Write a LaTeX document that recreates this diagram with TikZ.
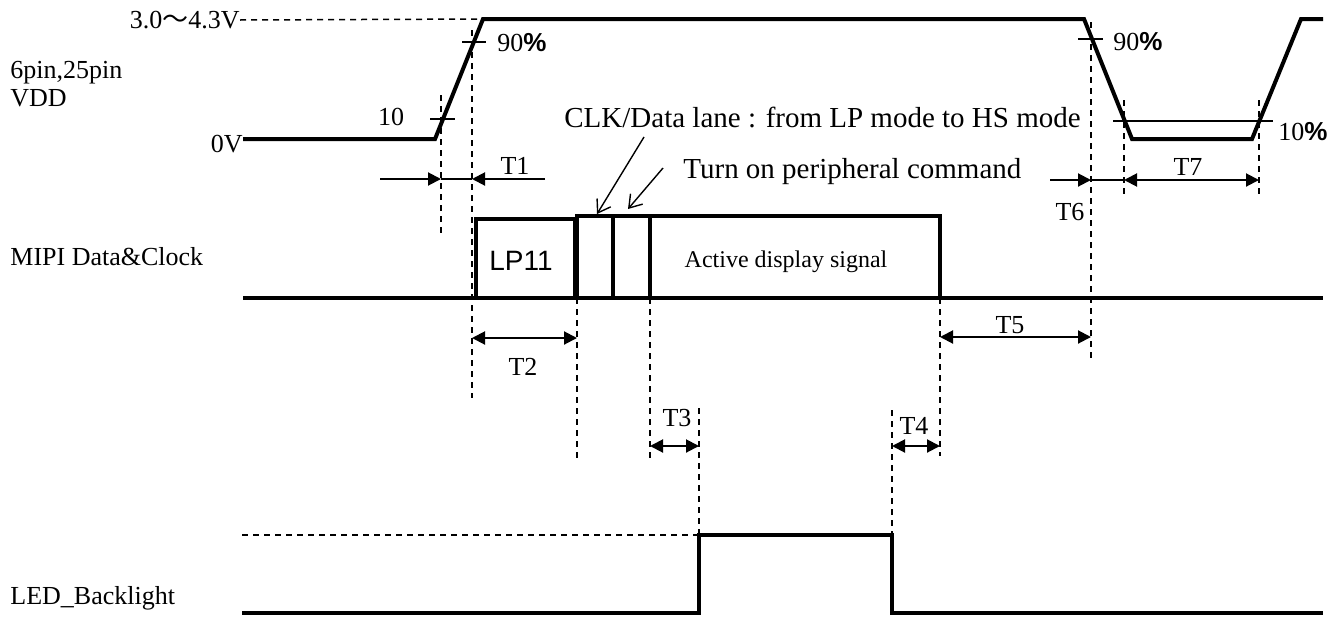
\documentclass[tikz,border=0pt]{standalone}
\usepackage{fontspec}
\setmainfont{Liberation Serif}
\newfontfamily\sansf{Liberation Sans}
\newfontfamily\cjk{Noto Sans CJK JP}
\usepackage{tikz}
\usetikzlibrary{arrows.meta}
\tikzset{
  sig/.style={draw=black, line width=2pt, line join=miter},
  box/.style={draw=black, line width=1.6pt},
  help/.style={draw=black, line width=0.75pt, dash pattern=on 3pt off 2.5pt},
  tick/.style={draw=black, line width=1.4pt},
  dim/.style={draw=black, line width=1pt},
  note/.style={draw=black, line width=0.7pt, -{Straight Barb[length=6pt,width=8pt]}},
  lab/.style={inner sep=0pt, font=\fontsize{13}{15}\selectfont},
  labl/.style={inner sep=0pt, font=\fontsize{14.5}{17}\selectfont},
  labs/.style={inner sep=0pt, font=\fontsize{12}{14}\selectfont},
  >={Triangle[length=6.5pt,width=6.5pt]},
}
\newcommand{\pct}{{\sansf\bfseries\%}}

\begin{document}
\begin{tikzpicture}[x=0.5pt,y=-0.5pt]
  \useasboundingbox (0,0) rectangle (1344,616);
  % VDD waveform
  \coordinate (v0) at (243,139);
  \coordinate (r0) at (435,139);
  \coordinate (r1) at (483,19);
  \coordinate (f0) at (1084,19);
  \coordinate (f1) at (1132,139);
  \coordinate (g0) at (1252,139);
  \coordinate (g1) at (1301,19);
  \coordinate (v1) at (1323,19);
  \draw[sig] (v0) -- (r0) -- (r1) -- (f0) -- (f1) -- (g0) -- (g1) -- (v1);
  \node[lab,anchor=east] (vhi) at (240,20) {3.0{\cjk 〜}4.3V};
  \draw[help] (vhi.east) -- (r1);
  \node[lab,anchor=base east] (vlo) at (243,152) {0V};
  \node[lab,anchor=west] (pin) at (10,73) {6pin,25pin};
  \node[lab,anchor=west] (vdd) at (10,98) {VDD};
  % 10/90 marks
  \draw[tick] (430,119) -- (455,119);
  \draw[tick] (462,42) -- (486,42);
  \draw[tick] (1078,39) -- (1103,39);
  \draw[tick] (1113,121) -- (1273,121);
  \node[lab] (p10) at (391,117) {10};
  \node[lab,anchor=west] (p90a) at (497,43) {90\pct};
  \node[lab,anchor=west] (p90b) at (1113,42) {90\pct};
  \node[lab,anchor=west] (p10b) at (1278,132) {10\pct};
  % guide lines
  \foreach \x/\ya/\yb in {441/95/233, 472/30/398, 577/298/458, 650/298/458,
                          940/298/456, 699/408/535, 892/410/535, 1091/22/358,
                          1124/100/198, 1259/100/198}
    \draw[help] (\x,\ya) -- (\x,\yb);
  % MIPI
  \node[lab,anchor=west] (mipi) at (10,257) {MIPI Data\&Clock};
  \draw[sig] (243,298) -- (1323,298);
  \draw[box] (476,219) rectangle (575,298);
  \draw[box] (577,216) rectangle (940,298);
  \draw[box] (613,216) -- (613,298) (650,216) -- (650,298);
  \node[inner sep=0pt,font=\sansf\fontsize{14}{16}\selectfont] (lp) at (521,261) {LP11};
  \node[labs] (act) at (786,262) {Active display signal};
  \node[labl,anchor=west] (clk) at (564,117) {CLK/Data lane : from LP mode to HS mode};
  \node[labl,anchor=west] (cmd) at (683,172) {Turn on peripheral command};
  \coordinate (c0) at (644,137);
  \coordinate (c1) at (597,214);
  \coordinate (m0) at (663,168);
  \coordinate (m1) at (628,209);
  \draw[note] (c0) -- (c1);
  \draw[note] (m0) -- (m1);
  % LED
  \node[lab,anchor=west] (led) at (10,598) {LED\_Backlight};
  \draw[help] (242,535) -- (699,535);
  \draw[sig] (242,613) -- (699,613) -- (699,535) -- (892,535) -- (892,613) -- (1323,613);
  % timings
  \draw[dim,->] (380,179) -- (441,179);
  \draw[dim,line width=1.4pt] (441,179) -- (472,179);
  \draw[dim,->] (545,179) -- (472,179);
  \draw[dim,->] (1050,180) -- (1091,180);
  \draw[dim,line width=1.4pt] (1091,180) -- (1124,180);
  \foreach \a/\b/\y in {472/577/338, 650/699/446, 892/940/446, 940/1091/337, 1124/1259/180}
    \draw[dim,<->] (\a,\y) -- (\b,\y);
  \foreach \n/\x/\y in {T1/515/166, T2/523/367, T3/677/418, T4/914/426,
                        T5/1010/325, T6/1070/212, T7/1188/167}
    \node[lab] (\n) at (\x,\y) {\n};
\end{tikzpicture}
\end{document}
